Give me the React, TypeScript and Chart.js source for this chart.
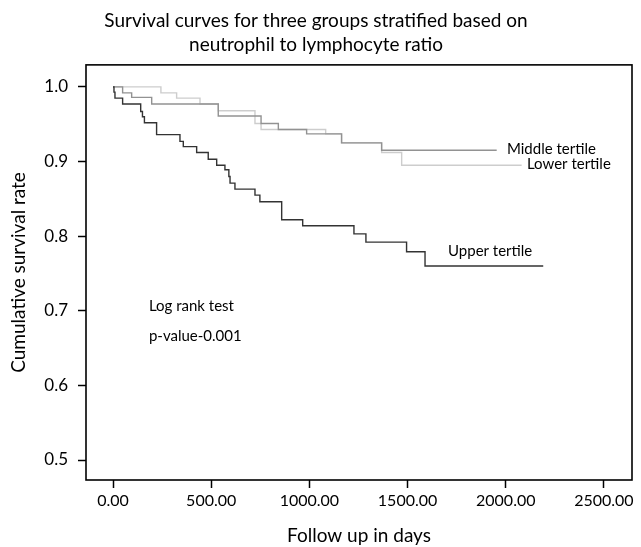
import React, { useEffect, useRef } from "react";
import { Chart, registerables } from "chart.js";

Chart.register(...registerables);

const titleLines = ["Survival curves for three groups stratified based on", "neutrophil to lymphocyte ratio"];
const xAxisTitle = "Follow up in days";
const yAxisTitle = "Cumulative survival rate";

const xTickValues = [0, 500, 1000, 1500, 2000, 2500];
const yTickValues = [0.5, 0.6, 0.7, 0.8, 0.9, 1.0];

const upperDays = [0, 5, 10, 49, 141, 150, 160, 222, 341, 358, 426, 485, 528, 570, 590, 596, 621, 723, 748, 859, 966, 1227, 1288, 1495, 1589, 2191];
const upperSurv = [1.0, 0.993, 0.985, 0.977, 0.967, 0.96, 0.952, 0.936, 0.927, 0.92, 0.912, 0.903, 0.895, 0.889, 0.88, 0.871, 0.863, 0.855, 0.846, 0.822, 0.814, 0.803, 0.792, 0.779, 0.76, 0.76];

const middleDays = [0, 49, 95, 197, 536, 754, 842, 986, 1164, 1368, 1954];
const middleSurv = [1.0, 0.992, 0.986, 0.977, 0.961, 0.951, 0.943, 0.937, 0.925, 0.915, 0.915];

const lowerDays = [0, 244, 324, 443, 536, 723, 754, 1083, 1164, 1368, 1470, 2081];
const lowerSurv = [1.0, 0.992, 0.985, 0.977, 0.968, 0.951, 0.943, 0.937, 0.925, 0.912, 0.895, 0.895];

const noteTexts = ["Middle tertile", "Lower tertile", "Upper tertile", "Log rank test", "p-value-0.001"];
const noteDays = [2006, 2108, 1706, 183, 183];
const noteSurv = [0.917, 0.896, 0.78, 0.706, 0.666];

const toPoints = (xs: number[], ys: number[]) => xs.map((x, i) => ({ x, y: ys[i] }));

const FONT = "Lato";

const framePlugin = {
  id: "frame",
  afterDraw(chart: any) {
    const { ctx, chartArea } = chart;
    ctx.save();
    ctx.strokeStyle = "#000";
    ctx.lineWidth = 1.6;
    ctx.strokeRect(chartArea.left, chartArea.top, chartArea.right - chartArea.left, chartArea.bottom - chartArea.top);
    ctx.restore();
  },
};

const notesPlugin = {
  id: "notes",
  afterDatasetsDraw(chart: any) {
    const { ctx, scales } = chart;
    ctx.save();
    ctx.fillStyle = "#000";
    ctx.font = `15px ${FONT}`;
    ctx.textAlign = "left";
    ctx.textBaseline = "middle";
    noteTexts.forEach((t, i) => {
      ctx.fillText(t, scales.x.getPixelForValue(noteDays[i]), scales.y.getPixelForValue(noteSurv[i]));
    });
    ctx.restore();
  },
};

export default function App() {
  const ref = useRef<HTMLCanvasElement>(null);
  useEffect(() => {
    if (!ref.current) return;
    const chart = new Chart(ref.current, {
      type: "line",
      data: {
        datasets: [
          { label: "Upper tertile", data: toPoints(upperDays, upperSurv), borderColor: "#333333", borderWidth: 1.4, stepped: true, pointRadius: 0, fill: false },
          { label: "Middle tertile", data: toPoints(middleDays, middleSurv), borderColor: "#929292", borderWidth: 1.4, stepped: true, pointRadius: 0, fill: false },
          { label: "Lower tertile", data: toPoints(lowerDays, lowerSurv), borderColor: "#cdcdcd", borderWidth: 1.4, stepped: true, pointRadius: 0, fill: false },
        ],
      },
      options: {
        responsive: false,
        animation: false,
        layout: { padding: { left: 0, right: 9, top: 0, bottom: 0 } },
        plugins: {
          legend: { display: false },
          tooltip: { enabled: false },
          title: {
            display: true,
            text: titleLines,
            color: "#000",
            font: { family: FONT, size: 19, weight: "normal", lineHeight: 1.26 },
            padding: { top: 9, bottom: 8 },
          },
        },
        scales: {
          x: {
            type: "linear",
            min: -137.5,
            max: 2643,
            afterBuildTicks: (s: any) => { s.ticks = xTickValues.map((v) => ({ value: v })); },
            afterFit: (s: any) => { s.height = 67; },
            ticks: { color: "#000", font: { family: FONT, size: 16 }, padding: 3, callback: (v: any) => Number(v).toFixed(2) },
            grid: { drawOnChartArea: false, drawTicks: true, tickLength: 8, tickColor: "#000", tickWidth: 1.5 },
            border: { display: false },
            title: { display: true, text: xAxisTitle, color: "#000", font: { family: FONT, size: 19 }, padding: { top: 0, bottom: 0 } },
          },
          y: {
            type: "linear",
            min: 0.4732,
            max: 1.0295,
            afterBuildTicks: (s: any) => { s.ticks = yTickValues.map((v) => ({ value: v })); },
            afterFit: (s: any) => { s.width = 86; },
            ticks: { color: "#000", font: { family: FONT, size: 17 }, padding: 10, callback: (v: any) => Number(v).toFixed(1) },
            grid: { drawOnChartArea: false, drawTicks: true, tickLength: 8, tickColor: "#000", tickWidth: 1.5 },
            border: { display: false },
            title: { display: true, text: yAxisTitle, color: "#000", font: { family: FONT, size: 19 }, padding: { top: 7, bottom: 0 } },
          },
        },
      },
      plugins: [framePlugin, notesPlugin],
    });
    return () => chart.destroy();
  }, []);
  return (
    <div style={{ position: "absolute", left: 0, top: 0, width: 641, height: 547, background: "#fff" }}>
      <canvas ref={ref} width={641} height={547} style={{ display: "block" }} />
    </div>
  );
}
